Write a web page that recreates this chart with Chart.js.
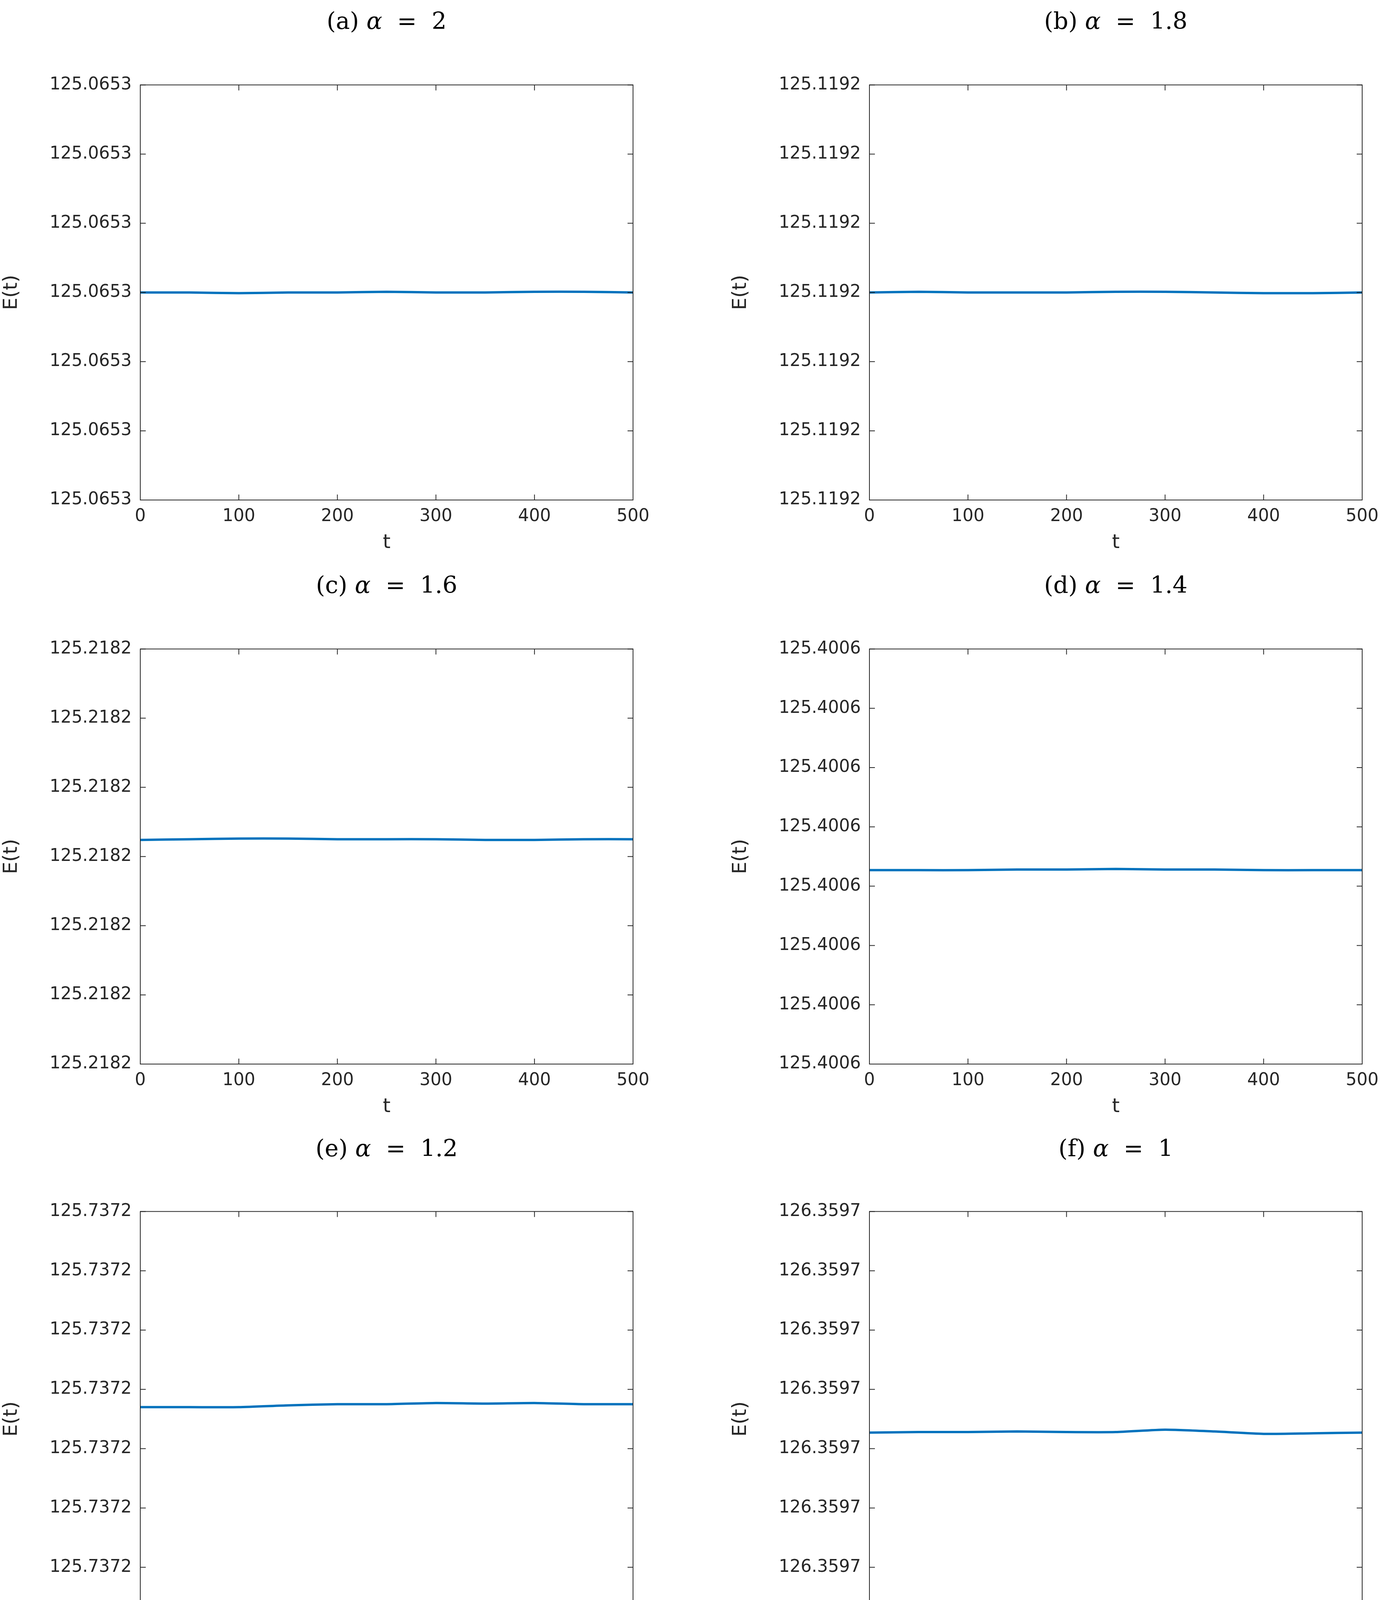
<!DOCTYPE html>
<html>
<head>
<meta charset="utf-8">
<script src="https://cdn.jsdelivr.net/npm/chart.js@4"></script>
<style>
  body { margin: 0; background: #fff; width: 3570px; height: 4342px; position: relative; overflow: hidden; }
  .title { position: absolute; font-family: "DejaVu Serif", "Liberation Serif", serif; font-size: 60px; text-align: center; width: 1261px; }
  .title i { font-style: italic; }
  .box { position: absolute; width: 1700px; height: 1243px; }
</style>
</head>
<body>
<script>
const tValues = [0, 50, 100, 150, 200, 250, 300, 350, 400, 450, 500];

const panelTitles = ["(a) α = 2", "(b) α = 1.8", "(c) α = 1.6", "(d) α = 1.4", "(e) α = 1.2", "(f) α = 1"];
const tickLabels = ["125.0653", "125.1192", "125.2182", "125.4006", "125.7372", "126.3597"];
const tickCounts = [6, 6, 6, 7, 7, 7];  // intervals on the E(t) axis

const energyA = [3.00, 3.00, 2.99, 3.00, 3.00, 3.01, 3.00, 3.00, 3.01, 3.01, 3.00];
const energyB = [3.00, 3.01, 3.00, 3.00, 3.00, 3.01, 3.01, 3.00, 2.99, 2.99, 3.00];
const energyC = [3.24, 3.25, 3.26, 3.26, 3.25, 3.25, 3.25, 3.24, 3.24, 3.25, 3.25];
const energyD = [3.27, 3.27, 3.27, 3.28, 3.28, 3.29, 3.28, 3.28, 3.27, 3.27, 3.27];
const energyE = [3.70, 3.70, 3.70, 3.73, 3.75, 3.75, 3.77, 3.76, 3.77, 3.75, 3.75];
const energyF = [3.27, 3.28, 3.28, 3.29, 3.28, 3.28, 3.32, 3.29, 3.25, 3.26, 3.27];

const allEnergy = [energyA, energyB, energyC, energyD, energyE, energyF];

const colLeft = [0, 1866];
const rowTop = [177, 1621, 3061];
const titleTop = [18, 1462, 2904];

// box and inward ticks, MATLAB style
const frame = {
  id: 'frame',
  afterDraw(chart) {
    const { ctx, chartArea: a, scales } = chart;
    ctx.save();
    ctx.strokeStyle = '#262626';
    ctx.lineWidth = 2;
    ctx.strokeRect(a.left, a.top, a.right - a.left, a.bottom - a.top);
    const len = 14;
    scales.x.ticks.forEach(t => {
      const px = scales.x.getPixelForValue(t.value);
      ctx.beginPath();
      ctx.moveTo(px, a.bottom); ctx.lineTo(px, a.bottom - len);
      ctx.moveTo(px, a.top); ctx.lineTo(px, a.top + len);
      ctx.stroke();
    });
    scales.y.ticks.forEach(t => {
      const py = scales.y.getPixelForValue(t.value);
      ctx.beginPath();
      ctx.moveTo(a.left, py); ctx.lineTo(a.left + len, py);
      ctx.moveTo(a.right, py); ctx.lineTo(a.right - len, py);
      ctx.stroke();
    });
    ctx.restore();
  }
};

panelTitles.forEach((title, i) => {
  const col = i % 2, row = Math.floor(i / 2);
  const h = document.createElement('div');
  h.className = 'title';
  h.style.left = (colLeft[col] + 359) + 'px';
  h.style.top = titleTop[row] + 'px';
  h.innerHTML = title.replace('α', '<i>α</i>').replace(' = ', '&nbsp;&nbsp;=&nbsp;&nbsp;');
  document.body.appendChild(h);

  const box = document.createElement('div');
  box.className = 'box';
  box.style.left = colLeft[col] + 'px';
  box.style.top = rowTop[row] + 'px';
  const cv = document.createElement('canvas');
  box.appendChild(cv);
  document.body.appendChild(box);

  new Chart(cv, {
    type: 'line',
    data: {
      datasets: [{
        data: tValues.map((t, k) => ({ x: t, y: allEnergy[i][k] })),
        borderColor: '#0072BD',
        borderWidth: 6,
        pointRadius: 0,
        tension: 0.2,
        fill: false
      }]
    },
    options: {
      responsive: true,
      maintainAspectRatio: false,
      animation: false,
      layout: { padding: { top: 30, right: 80, left: 0, bottom: 0 } },
      plugins: { legend: { display: false }, tooltip: { enabled: false } },
      scales: {
        x: {
          type: 'linear', min: 0, max: 500,
          grid: { display: false },
          border: { display: false },
          ticks: { stepSize: 100, color: '#262626', font: { size: 44, family: 'DejaVu Sans' }, padding: 8 },
          title: { display: true, text: 't', color: '#262626', font: { size: 50, family: 'DejaVu Sans' }, padding: 0 },
          afterFit(s) { s.height = 140; }
        },
        y: {
          type: 'linear', min: 0, max: tickCounts[i],
          grid: { display: false },
          border: { display: false },
          ticks: {
            stepSize: 1, color: '#262626', font: { size: 44, family: 'DejaVu Sans' }, padding: 14,
            callback: () => tickLabels[i]
          },
          title: { display: true, text: 'E(t)', color: '#262626', font: { size: 50, family: 'DejaVu Sans' }, padding: 0 },
          afterFit(s) { s.width = 359; }
        }
      }
    },
    plugins: [frame]
  });
});
</script>
</body>
</html>
